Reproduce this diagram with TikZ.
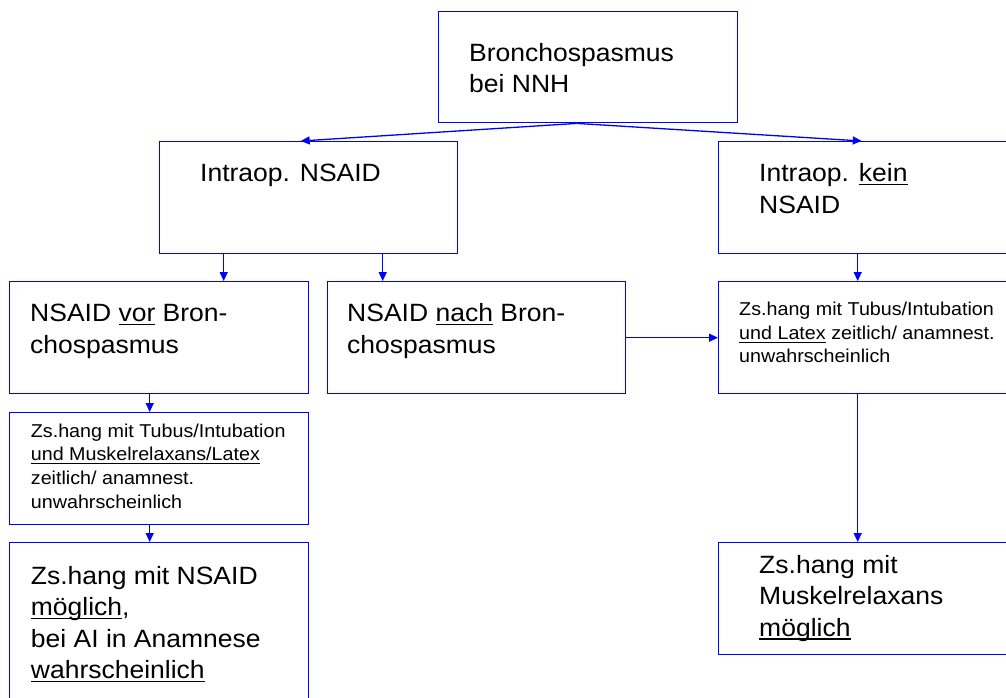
\documentclass[tikz,border=0pt]{standalone}
\usepackage{fontspec}
\setmainfont{Liberation Sans}[FakeStretch=1.06]
\usetikzlibrary{arrows.meta}
\tikzset{
  box/.style={draw=blue, line width=1.4pt, rectangle, inner sep=0pt, anchor=north west},
  txt/.style={anchor=base west, inner sep=0pt, align=left, text=black},
  big/.style={font=\fontsize{25}{31.3}\selectfont},
  small/.style={font=\fontsize{18.6}{23.6}\selectfont},
  arr/.style={draw=blue, line width=1.3pt, -{Triangle[length=9pt,width=8pt]}},
}
\newsavebox\myulbox
\newcommand\myul[1]{\sbox\myulbox{#1}\rlap{\rule[-3.4pt]{\wd\myulbox}{1.1pt}}\usebox\myulbox}
\newcommand\Bl[1]{\vtop{\baselineskip=31.4pt\lineskiplimit=-100pt #1}}
\newcommand\Sl[1]{\vtop{\baselineskip=23.6pt\lineskiplimit=-100pt #1}}
\begin{document}
\begin{tikzpicture}[x=1pt,y=-1pt]
\useasboundingbox (0,0) rectangle (1006,697);
% boxes
\node[box, minimum width=299pt, minimum height=111.5pt] (top)   at (438,10.5) {};
\node[box, minimum width=298.5pt, minimum height=112pt] (intra) at (158.5,141) {};
\node[box, minimum width=299pt, minimum height=112pt] (kein)  at (718,141) {};
\node[box, minimum width=299.5pt, minimum height=112pt] (vor)   at (8.5,281) {};
\node[box, minimum width=298pt, minimum height=112pt] (nach)  at (327,281) {};
\node[box, minimum width=299pt, minimum height=112pt] (rtub)  at (718,281) {};
\node[box, minimum width=299.5pt, minimum height=112pt] (ltub)  at (8.5,412) {};
\node[box, minimum width=299.5pt, minimum height=180pt] (lns)   at (8.5,542) {};
\node[box, minimum width=299pt, minimum height=112pt] (rmus)  at (718,542) {};
% texts
\node[txt, big] (ttop) at (469,61) {\Bl{\hbox{Bronchospasmus}\hbox{bei NNH}}};
\node[txt, big] (tintra) at (200,181.7) {\Bl{\hbox{Intraop. NSAID}}};
\node[txt, big] (tkein) at (759,181.7) {\Bl{\hbox{Intraop. \myul{kein}}\hbox{NSAID}}};
\node[txt, big] (tvor) at (30,321.7) {\Bl{\hbox{NSAID \myul{vor} Bron-}\hbox{chospasmus}}};
\node[txt, big] (tnach) at (347,321.7) {\Bl{\hbox{NSAID \myul{nach} Bron-}\hbox{chospasmus}}};
\node[txt, small] (trtub) at (739,315.7) {\Sl{\hbox{Zs.hang mit Tubus/Intubation}\hbox{\myul{und Latex} zeitlich/ anamnest.}\hbox{unwahrscheinlich}}};
\node[txt, small] (tltub) at (30.7,437.3) {\Sl{\hbox{Zs.hang mit Tubus/Intubation}\hbox{\myul{und Muskelrelaxans/Latex}}\hbox{zeitlich/ anamnest.}\hbox{unwahrscheinlich}}};
\node[txt, big] (tlns) at (30.7,584.3) {\Bl{\hbox{Zs.hang mit NSAID}\hbox{\myul{möglich},}\hbox{bei AI in Anamnese}\hbox{\myul{wahrscheinlich}}}};
\node[txt, big] (trmus) at (759,573.3) {\Bl{\hbox{Zs.hang mit}\hbox{Muskelrelaxans}\hbox{\myul{möglich}}}};
% connectors
\draw[arr] ([xshift=-11.5pt]top.south) -- ([xshift=-7.75pt]intra.north);
\draw[arr] ([xshift=-11.5pt]top.south) -- ([xshift=-6.5pt]kein.north);
\draw[arr] ([xshift=-84.75pt]intra.south) -- ([xshift=-84.75pt]intra.south |- vor.north);
\draw[arr] ([xshift=74.25pt]intra.south) -- ([xshift=74.25pt]intra.south |- nach.north);
\draw[arr] ([xshift=-10.5pt]kein.south) -- ([xshift=-10.5pt]kein.south |- rtub.north);
\draw[arr] (nach.east) -- (rtub.west);
\draw[arr] ([xshift=-9.25pt]vor.south) -- ([xshift=-9.25pt]vor.south |- ltub.north);
\draw[arr] ([xshift=-9.25pt]ltub.south) -- ([xshift=-9.25pt]ltub.south |- lns.north);
\draw[arr] ([xshift=-10.5pt]rtub.south) -- ([xshift=-10.5pt]rtub.south |- rmus.north);
\end{tikzpicture}
\end{document}
